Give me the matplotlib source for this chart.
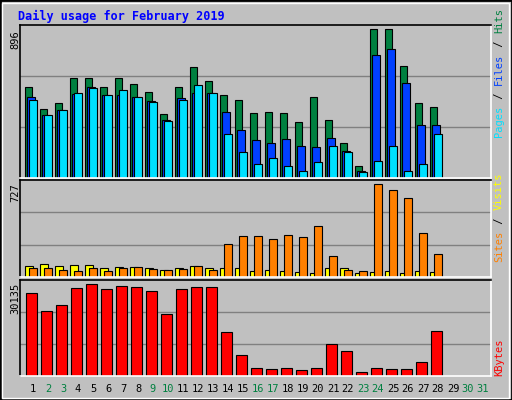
import matplotlib
matplotlib.use("Agg")
import matplotlib.pyplot as plt
from matplotlib.patches import Rectangle

days = list(range(1, 32))
weekend = [2, 3, 9, 10, 16, 17, 23, 24, 30, 31]
hits = [549,416,452,604,604,549,604,567,519,385,549,665,586,500,470,391,397,391,337,489,349,209,75,896,896,671,452,428]
files = [489,379,409,507,549,501,501,489,464,349,483,513,513,397,288,227,209,233,191,185,239,160,45,738,774,574,318,318]
pages = [470,379,409,513,543,501,531,489,458,343,470,561,513,264,154,87,118,75,45,99,191,154,39,105,191,45,87,264]
sites = [89,105,89,97,97,73,81,81,73,58,73,89,73,73,73,50,58,50,42,34,73,73,34,42,50,34,50,42]
visits = [73,73,58,50,73,50,73,81,66,58,66,89,58,255,318,318,302,326,310,397,168,58,50,727,680,617,349,184]
kbytes = [27170,21230,23210,28820,30135,28490,29480,29150,27830,20240,28490,29150,29150,14300,7040,2750,2420,2750,2090,2750,10340,8030,1430,2750,2420,2420,4730,14630]

W, H = 512, 400
fig = plt.figure(figsize=(W/100, H/100), dpi=100, facecolor="#C0C0C0")
mono = "DejaVu Sans Mono"

fig.add_artist(Rectangle((0, 0), 1, 1, transform=fig.transFigure, fill=False, edgecolor="black", lw=2))
fig.add_artist(Rectangle((2/W, 2/H), 1-5/W, 1-5/H, transform=fig.transFigure, fill=False, edgecolor="white", lw=1))

def ax_px(x0, y0, x1, y1):
    return fig.add_axes([x0/W, 1-y1/H, (x1-x0)/W, (y1-y0)/H])

XL = (1 + (20-33)/15, 1 + (491-33)/15)

def style(ax, ymax):
    ax.set_facecolor("#C0C0C0")
    ax.set_xlim(*XL)
    ax.set_ylim(0, ymax)
    for f in (1/3, 2/3):
        ax.axhline(ymax*f, color="#808080", lw=1, zorder=0)
    ax.set_xticks([]); ax.set_yticks([])
    for s in ("top", "left"):
        ax.spines[s].set_color("black")
    for s in ("bottom", "right"):
        ax.spines[s].set_color("white")
    for s in ax.spines.values():
        s.set_linewidth(1.2)

n = len(hits)
x = list(range(1, n+1))
w = 7/15
kw = dict(edgecolor="black", linewidth=0.8, align="edge")

ax1 = ax_px(20, 25, 491, 178)
style(ax1, 920)
ax1.bar([d-7.7/15 for d in x], hits, w, color="#008040", **kw)
ax1.bar([d-5.7/15 for d in x], files, w+0.3/15, color="#0040FF", **kw)
ax1.bar([d-3.7/15 for d in x], pages, w+0.3/15, color="#00E0FF", **kw)

ax2 = ax_px(20, 180, 491, 277)
style(ax2, 761)
ax2.bar([d-7.7/15 for d in x], sites, 8/15, color="#FFFF00", **kw)
ax2.bar([d-3.7/15 for d in x], visits, w+0.3/15, color="#FF8000", **kw)

ax3 = ax_px(20, 280, 491, 376)
style(ax3, 31450)
ax3.bar([d-6.7/15 for d in x], kbytes, 10.4/15, color="#FF0000", **kw)

fig.text(18/W, 1-16/H, "Daily usage for February 2019", color="#0000FF", fontsize=8.5,
         fontweight="bold", family=mono, va="center")

for txt, yc in (("896", 40), ("727", 193), ("30135", 298)):
    fig.text(15/W, 1-yc/H, txt, rotation=90, fontsize=7.5, family=mono, ha="center", va="center")

renderer = fig.canvas.get_renderer()

def vlabel(segs, ybottom):
    y = ybottom
    for t, c in segs:
        tx = fig.text(499/W, 1-y/H, t, rotation=90, fontsize=7.5, family=mono, color=c,
                      ha="center", va="bottom")
        bb = tx.get_window_extent(renderer)
        y -= bb.height + 1

vlabel([("Pages", "#00E0FF"), (" / ", "black"), ("Files", "#0040FF"), (" / ", "black"), ("Hits", "#008040")], 137)
vlabel([("Sites", "#FF8000"), (" / ", "black"), ("Visits", "#FFFF00")], 262)
vlabel([("KBytes", "#FF0000")], 376)

for d in days:
    fig.text((33+15*(d-1))/W, 1-389/H, str(d), fontsize=7.5, family=mono, ha="center", va="center",
             color="#008040" if d in weekend else "black")

fig.savefig("out.png", dpi=100, facecolor=fig.get_facecolor())
